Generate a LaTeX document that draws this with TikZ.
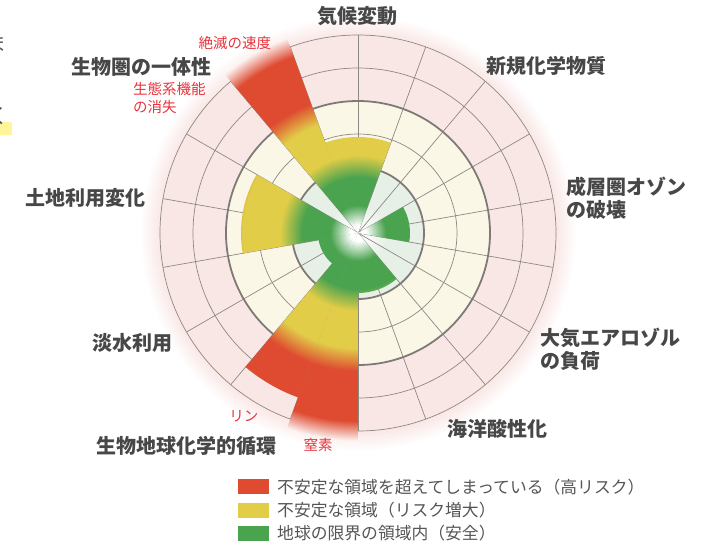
\documentclass[tikz,border=0pt]{standalone}
\usepackage{fontspec}
\setmainfont{Noto Sans CJK JP}
\usepackage{tikz}
\usetikzlibrary{positioning}

\definecolor{safe}{HTML}{4AA34F}
\definecolor{risk}{HTML}{E2CD48}
\definecolor{high}{HTML}{DE4B31}
\definecolor{mint}{HTML}{E6F0E7}
\definecolor{cream}{HTML}{FAF7E7}
\definecolor{blush}{HTML}{F9E7E5}
\definecolor{gridline}{HTML}{8E8883}
\definecolor{labelgray}{HTML}{474747}
\definecolor{legendgray}{HTML}{555555}
\definecolor{subred}{HTML}{E8343C}
\definecolor{marker}{HTML}{FFF59A}

% shadings get stretched so that 25bp = radius of the shaded circle
% (drawn on a circle of radius 250, so 1bp = 10)
\pgfdeclareradialshading{boundshade}{\pgfpointorigin}{%
  color(0bp)=(white); color(0.8bp)=(white); color(2.8bp)=(safe); color(5.6bp)=(safe);
  color(7.8bp)=(risk); color(11.5bp)=(risk); color(13.8bp)=(high); color(18.8bp)=(high);
  color(20.8bp)=(blush!40!white); color(25bp)=(white); color(50bp)=(white)}
\pgfdeclareradialshading{haloshade}{\pgfpointorigin}{%
  color(0bp)=(blush); color(19.8bp)=(blush); color(21.8bp)=(white); color(25bp)=(white); color(50bp)=(white)}
% this one goes onto the safe disc (radius 66)
\pgfdeclareradialshading{coreshade}{\pgfpointorigin}{%
  color(0bp)=(white); color(1.9bp)=(white); color(11.4bp)=(mint); color(25bp)=(mint); color(50bp)=(mint)}

\begin{document}
\begin{tikzpicture}[
    x=1pt, y=1pt,
    gridthin/.style={draw=gridline, line width=0.7pt},
    gridthick/.style={draw=gridline!90!black, line width=1.8pt},
    boundary/.style={font=\bfseries\fontsize{20}{23.5}\selectfont, text=labelgray, align=left, inner sep=0pt},
    sub/.style={font=\fontsize{14.5}{18}\selectfont, text=subred, align=left, inner sep=0pt},
    key/.style={minimum width=31pt, minimum height=15pt, inner sep=0pt},
    keytext/.style={font=\fontsize{16.8}{18}\selectfont, text=legendgray, inner sep=0pt}
]
    \useasboundingbox (-358,-311) rectangle (351,233);

    % cut-off text of the page on the left edge
    \fill[marker] (-358,98) rectangle (-346,111);
    \node[keytext, font=\fontsize{20}{22}\selectfont] (cutA) at (-361,189) {ま};
    \node[keytext, font=\fontsize{20}{22}\selectfont] (cutB) at (-359,117) {く};

    % Zones (high risk, increasing risk, safe)
    \shade[shading=haloshade] (0,0) circle (250);
    \fill[cream] (0,0) circle (132);
    \shade[shading=coreshade] (0,0) circle (66);

    % Grid
    \foreach \r in {99,165,198}
        \draw[gridthin] (0,0) circle (\r);
    \foreach \a in {10,30,...,350}
        \draw[gridthin] (0,0) -- (\a:198);
    \foreach \r in {66,132}
        \draw[gridthick] (0,0) circle (\r);

    % Control variables (start angle / end angle / reach)
    \foreach \a/\b/\r in {70/110/96, -10/30/52, -90/-50/60, -110/-90/208,
                          -130/-110/175, 190/230/40, 150/190/117, 110/130/208} {
        \begin{scope}
            \clip (0,0) -- (\a:\r) arc (\a:\b:\r) -- cycle;
            \shade[shading=boundshade] (0,0) circle (250);
        \end{scope}
    }

    % Boundary names
    \node[boundary] (climate) at (-1,217) {気候変動};
    \node[boundary] (novel) at (188.5,167) {新規化学物質};
    \node[boundary, anchor=west] (ozone) at (208.7,34.7) {成層圏オゾン\\の破壊};
    \node[boundary, anchor=west] (aerosol) at (182,-116) {大気エアロゾル\\の負荷};
    \node[boundary] (ocean) at (139.5,-196) {海洋酸性化};
    \node[boundary] (biogeo) at (-171,-213) {生物地球化学的循環};
    \node[boundary] (fresh) at (-225,-110) {淡水利用};
    \node[boundary] (land) at (-272,35) {土地利用変化};
    \node[boundary] (biosphere) at (-216,166) {生物圏の一体性};

    % Sub-boundaries
    \node[sub] (extinct) at (-123,190) {絶滅の速度};
    \node[sub, anchor=west] (function) at (-225,135) {生態系機能\\の消失};
    \node[sub] (phos) at (-114,-183) {リン};
    \node[sub] (nitro) at (-40,-212) {窒素};

    % Legend
    \node[key, fill=high] (kHigh) at (-104.4,-253.8) {};
    \node[key, fill=risk, below=8pt of kHigh] (kRisk) {};
    \node[key, fill=safe, below=7.5pt of kRisk] (kSafe) {};
    \node[keytext, right=7.7pt of kHigh] (tHigh) {不安定な領域を超えてしまっている（高リスク）};
    \node[keytext, right=7.7pt of kRisk] (tRisk) {不安定な領域（リスク増大）};
    \node[keytext, right=7.7pt of kSafe] (tSafe) {地球の限界の領域内（安全）};
\end{tikzpicture}
\end{document}
